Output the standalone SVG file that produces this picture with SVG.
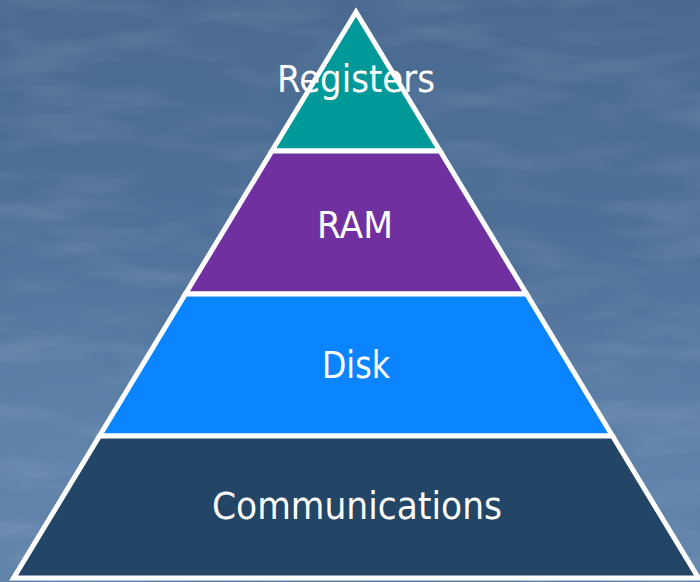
<svg xmlns="http://www.w3.org/2000/svg" width="700" height="582" viewBox="0 0 700 582">
  <style>
    .band { stroke: #ffffff; stroke-width: 5; stroke-linejoin: miter; stroke-miterlimit: 10; }
    .label { font-family: "DejaVu Sans", "Liberation Sans", sans-serif; font-size: 37px; fill: #ffffff; text-anchor: middle; }
  </style>
  <defs>
    <linearGradient id="bgGrad" x1="0" y1="0" x2="0" y2="1">
      <stop offset="0" stop-color="#4a6a90"/>
      <stop offset="0.45" stop-color="#4e7098"/>
      <stop offset="1" stop-color="#5a7da5"/>
    </linearGradient>
    <radialGradient id="glowL" cx="0.1" cy="0.8" r="0.5">
      <stop offset="0" stop-color="#7092b8" stop-opacity="0.45"/>
      <stop offset="1" stop-color="#7092b8" stop-opacity="0"/>
    </radialGradient>
    <radialGradient id="glowR" cx="0.92" cy="0.78" r="0.4">
      <stop offset="0" stop-color="#7092b8" stop-opacity="0.4"/>
      <stop offset="1" stop-color="#7092b8" stop-opacity="0"/>
    </radialGradient>
    <filter id="marble" x="0" y="0" width="100%" height="100%">
      <feTurbulence type="fractalNoise" baseFrequency="0.008 0.035" numOctaves="3" seed="7" result="noise"/>
      <feColorMatrix in="noise" type="matrix" values="0 0 0 0 1  0 0 0 0 1  0 0 0 0 1  1.4 0 0 0 -0.62"/>
    </filter>
  </defs>

  <!-- backdrop -->
  <rect width="700" height="582" fill="url(#bgGrad)"/>
  <rect width="700" height="582" fill="url(#glowL)"/>
  <rect width="700" height="582" fill="url(#glowR)"/>
  <rect width="700" height="582" filter="url(#marble)" opacity="0.18"/>

  <!-- pyramid tiers, apex at (356,12), sides slope 0.605 px per px -->
  <g id="tier-registers">
    <polygon class="band" points="356,12 440.1,151 271.9,151" fill="#009999"/>
    <text class="label" x="356" y="92" textLength="158" lengthAdjust="spacingAndGlyphs">Registers</text>
  </g>
  <g id="tier-ram">
    <polygon class="band" points="271.9,151 440.1,151 526.6,294 185.4,294" fill="#7030a0"/>
    <text class="label" x="355" y="238" textLength="76" lengthAdjust="spacingAndGlyphs">RAM</text>
  </g>
  <g id="tier-disk">
    <polygon class="band" points="185.4,294 526.6,294 612.5,436 99.5,436" fill="#0a84ff"/>
    <text class="label" x="356" y="378" textLength="68" lengthAdjust="spacingAndGlyphs">Disk</text>
  </g>
  <g id="tier-communications">
    <polygon class="band" points="99.5,436 612.5,436 698.4,578 13.6,578" fill="#234566"/>
    <text class="label" x="357" y="519" textLength="290" lengthAdjust="spacingAndGlyphs">Communications</text>
  </g>

  <!-- no connectors between tiers -->
  <g id="connectors"/>
</svg>
